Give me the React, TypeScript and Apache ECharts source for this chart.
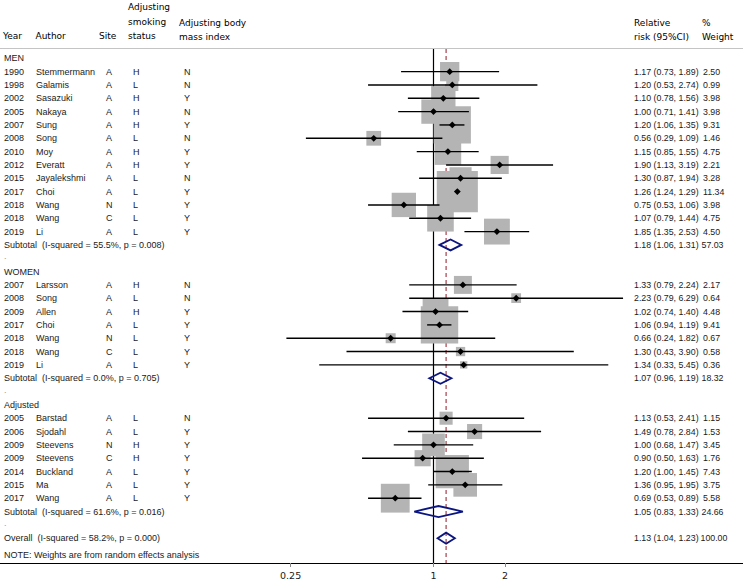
import React, { useEffect, useRef } from 'react';
import * as echarts from 'echarts';

// ---------- data ----------
const groupNames = ['MEN', 'WOMEN', 'Adjusted'];
const studyGroup = [0, 0, 0, 0, 0, 0, 0, 0, 0, 0, 0, 0, 0, 1, 1, 1, 1, 1, 1, 1, 2, 2, 2, 2, 2, 2, 2];
const years = ['1990', '1998', '2002', '2005', '2007', '2008', '2010', '2012', '2015', '2017', '2018', '2018', '2019',
  '2007', '2008', '2009', '2017', '2018', '2018', '2019',
  '2005', '2006', '2009', '2009', '2014', '2015', '2017'];
const authors = ['Stemmermann', 'Galamis', 'Sasazuki', 'Nakaya', 'Sung', 'Song', 'Moy', 'Everatt', 'Jayalekshmi', 'Choi', 'Wang', 'Wang', 'Li',
  'Larsson', 'Song', 'Allen', 'Choi', 'Wang', 'Wang', 'Li',
  'Barstad', 'Sjodahl', 'Steevens', 'Steevens', 'Buckland', 'Ma', 'Wang'];
const sites = ['A', 'A', 'A', 'A', 'A', 'A', 'A', 'A', 'A', 'A', 'N', 'C', 'A',
  'A', 'A', 'A', 'A', 'N', 'C', 'A',
  'A', 'A', 'N', 'C', 'A', 'A', 'A'];
const smoking = ['H', 'L', 'H', 'H', 'H', 'L', 'H', 'H', 'L', 'L', 'L', 'L', 'L',
  'H', 'L', 'H', 'L', 'L', 'L', 'L',
  'L', 'L', 'H', 'H', 'L', 'L', 'L'];
const bmi = ['N', 'N', 'Y', 'N', 'Y', 'N', 'Y', 'Y', 'N', 'Y', 'Y', 'Y', 'Y',
  'N', 'N', 'Y', 'Y', 'Y', 'Y', 'Y',
  'N', 'Y', 'Y', 'Y', 'Y', 'Y', 'Y'];
const rr = [1.17, 1.20, 1.10, 1.00, 1.20, 0.56, 1.15, 1.90, 1.30, 1.26, 0.75, 1.07, 1.85,
  1.33, 2.23, 1.02, 1.06, 0.66, 1.30, 1.34,
  1.13, 1.49, 1.00, 0.90, 1.20, 1.36, 0.69];
const lower = [0.73, 0.53, 0.78, 0.71, 1.06, 0.29, 0.85, 1.13, 0.87, 1.24, 0.53, 0.79, 1.35,
  0.79, 0.79, 0.74, 0.94, 0.24, 0.43, 0.33,
  0.53, 0.78, 0.68, 0.50, 1.00, 0.95, 0.53];
const upper = [1.89, 2.74, 1.56, 1.41, 1.35, 1.09, 1.55, 3.19, 1.94, 1.29, 1.06, 1.44, 2.53,
  2.24, 6.29, 1.40, 1.19, 1.82, 3.90, 5.45,
  2.41, 2.84, 1.47, 1.63, 1.45, 1.95, 0.89];
const weights = [2.50, 0.99, 3.98, 3.98, 9.31, 1.46, 4.75, 2.21, 3.28, 11.34, 3.98, 4.75, 4.50,
  2.17, 0.64, 4.48, 9.41, 0.67, 0.58, 0.36,
  1.15, 1.53, 3.45, 1.76, 7.43, 3.75, 5.58];

const subRR = [1.18, 1.07, 1.05];
const subLower = [1.06, 0.96, 0.83];
const subUpper = [1.31, 1.19, 1.33];
const subWeight = [57.03, 18.32, 24.66];
const subI2 = ['55.5%', '0.0%', '61.6%'];
const subP = ['0.008', '0.705', '0.016'];

const overallRR = 1.13;
const overallLower = 1.04;
const overallUpper = 1.23;
const overallWeight = 100.0;
const overallI2 = '58.2%';
const overallP = '0.000';

const tickValues = [0.25, 1, 2];
const nullValue = 1;

// ---------- layout ----------
const W = 743;
const H = 586;
const X_ONE = 433.5;
const OCTAVE = 71.45;
const GRID_TOP = 48;
const GRID_BOTTOM = 563;
const FIRST_ROW_Y = 58.3;
const ROW_H = 13.33;
const BOX_K = 12.2;

const X_MIN = Math.pow(2, -X_ONE / OCTAVE);
const X_MAX = Math.pow(2, (W - X_ONE) / OCTAVE);
const Y_MIN = (GRID_TOP - FIRST_ROW_Y) / ROW_H;
const Y_MAX = (GRID_BOTTOM - FIRST_ROW_Y) / ROW_H;

const TFONT = '9px "Liberation Sans", Arial, sans-serif';
const NFONT = '8.8px "Liberation Sans", Arial, sans-serif';
const HFONT = '9px "DejaVu Sans", Verdana, sans-serif';
const TCOL = '#1a1a1a';

const COL_YEAR = 4;
const COL_AUTHOR = 36;
const COL_SITE = 106;
const COL_SMOKE = 133;
const COL_BMI = 184;
const COL_RR = 634;
const COL_W = 703;

type Row = { kind: 'group' | 'study' | 'sub' | 'dot' | 'overall'; idx: number };
const rows: Row[] = [];
groupNames.forEach((_, gi) => {
  rows.push({ kind: 'group', idx: gi });
  studyGroup.forEach((g, si) => {
    if (g === gi) rows.push({ kind: 'study', idx: si });
  });
  rows.push({ kind: 'sub', idx: gi });
  rows.push({ kind: 'dot', idx: gi });
});
rows.push({ kind: 'overall', idx: 0 });

const fmtCI = (a: number, b: number, c: number) => `${a.toFixed(2)} (${b.toFixed(2)}, ${c.toFixed(2)})`;

function txt(x: number, y: number, text: string, font = TFONT, fill = TCOL) {
  return { type: 'text', x, y, silent: true, style: { text, font, fill, align: 'left', verticalAlign: 'middle' } };
}

export default function App() {
  const ref = useRef<HTMLDivElement>(null);
  useEffect(() => {
    if (!ref.current) return;
    const chart = echarts.init(ref.current, undefined, { renderer: 'svg' });

    const studyRowIdx: number[] = [];
    const subRowIdx: number[] = [];
    rows.forEach((r, i) => {
      if (r.kind === 'study') studyRowIdx[r.idx] = i;
      if (r.kind === 'sub') subRowIdx[r.idx] = i;
    });
    const overallRow = rows.length - 1;

    const studyData = rr.map((v, i) => [v, studyRowIdx[i], lower[i], upper[i], weights[i]]);
    const diamondData = subRR.map((v, i) => [v, subRowIdx[i], subLower[i], subUpper[i]]);
    diamondData.push([overallRR, overallRow, overallLower, overallUpper]);

    const option: any = {
      animation: false,
      backgroundColor: '#ffffff',
      grid: { left: 0, right: 0, top: GRID_TOP, bottom: H - GRID_BOTTOM, containLabel: false },
      xAxis: [
        {
          type: 'log',
          logBase: 2,
          min: X_MIN,
          max: X_MAX,
          position: 'bottom',
          axisLine: { show: true, onZero: false, lineStyle: { color: '#000', width: 1 } },
          axisTick: { show: true, customValues: tickValues, length: 4, lineStyle: { color: '#888', width: 1 } },
          axisLabel: {
            show: true,
            customValues: tickValues,
            margin: 7,
            formatter: (v: number) => String(v),
            fontFamily: '"DejaVu Sans", Verdana, sans-serif',
            fontSize: 9.5,
            color: '#1a1a1a',
          },
          splitLine: { show: false },
        },
        {
          type: 'log',
          logBase: 2,
          min: X_MIN,
          max: X_MAX,
          position: 'top',
          axisLine: { show: true, onZero: false, lineStyle: { color: '#c4c4c4', width: 1 } },
          axisTick: { show: false },
          axisLabel: { show: false },
          splitLine: { show: false },
        },
      ],
      yAxis: {
        type: 'value', inverse: true, min: Y_MIN, max: Y_MAX, show: false,
        axisLine: { show: false }, axisTick: { show: false }, axisLabel: { show: false }, splitLine: { show: false },
      },
      series: [
        {
          type: 'custom',
          name: 'reference',
          z: 1,
          data: [[nullValue, 0], [overallRR, 1]],
          renderItem: (params: any, api: any) => {
            const v = api.value(0);
            const p0 = api.coord([v, Y_MIN]);
            const p1 = api.coord([v, Y_MAX]);
            const dashed = params.dataIndex === 1;
            return {
              type: 'line',
              shape: { x1: p0[0], y1: p0[1] + 1, x2: p1[0], y2: p1[1] },
              style: dashed
                ? { stroke: '#a5404a', lineWidth: 1.2, lineDash: [4, 3] }
                : { stroke: '#000', lineWidth: 1.2 },
            };
          },
        },
        {
          type: 'custom',
          name: 'boxes',
          z: 2,
          data: studyData,
          renderItem: (params: any, api: any) => {
            const p = api.coord([api.value(0), api.value(1)]);
            const s = BOX_K * Math.sqrt(api.value(4));
            return {
              type: 'rect',
              shape: { x: p[0] - s / 2, y: p[1] - s / 2, width: s, height: s },
              style: { fill: '#b4b4b4' },
            };
          },
        },
        {
          type: 'custom',
          name: 'ci',
          z: 3,
          data: studyData,
          renderItem: (params: any, api: any) => {
            const row = api.value(1);
            const p = api.coord([api.value(0), row]);
            const a = api.coord([api.value(2), row]);
            const b = api.coord([api.value(3), row]);
            const d = 3.4;
            return {
              type: 'group',
              children: [
                { type: 'line', shape: { x1: a[0], y1: a[1], x2: b[0], y2: b[1] }, style: { stroke: '#000', lineWidth: 1.4 } },
                {
                  type: 'polygon',
                  shape: { points: [[p[0] - d, p[1]], [p[0], p[1] - d], [p[0] + d, p[1]], [p[0], p[1] + d]] },
                  style: { fill: '#000' },
                },
              ],
            };
          },
        },
        {
          type: 'custom',
          name: 'pooled',
          z: 4,
          data: diamondData,
          renderItem: (params: any, api: any) => {
            const row = api.value(1);
            const p = api.coord([api.value(0), row]);
            const a = api.coord([api.value(2), row]);
            const b = api.coord([api.value(3), row]);
            const h = 5.5;
            return {
              type: 'polygon',
              shape: { points: [[a[0], p[1]], [p[0], p[1] - h], [b[0], p[1]], [p[0], p[1] + h]] },
              style: { fill: 'none', stroke: '#0a1580', lineWidth: 1.8 },
            };
          },
        },
        {
          type: 'custom',
          name: 'table',
          z: 5,
          silent: true,
          data: rows.map((_, i) => [nullValue, i]),
          renderItem: (params: any, api: any) => {
            const r = rows[params.dataIndex];
            const y = api.coord([nullValue, api.value(1)])[1];
            const ch: any[] = [];
            if (r.kind === 'group') {
              ch.push(txt(COL_YEAR, y, groupNames[r.idx]));
            } else if (r.kind === 'study') {
              const i = r.idx;
              ch.push(txt(COL_YEAR, y, years[i]));
              ch.push(txt(COL_AUTHOR, y, authors[i]));
              ch.push(txt(COL_SITE, y, sites[i]));
              ch.push(txt(COL_SMOKE, y, smoking[i]));
              ch.push(txt(COL_BMI, y, bmi[i]));
              ch.push(txt(COL_RR, y, fmtCI(rr[i], lower[i], upper[i]), NFONT));
              ch.push(txt(COL_W, y, weights[i].toFixed(2), NFONT));
            } else if (r.kind === 'sub') {
              const i = r.idx;
              ch.push(txt(COL_YEAR, y, `Subtotal  (I-squared = ${subI2[i]}, p = ${subP[i]})`));
              ch.push(txt(COL_RR, y, fmtCI(subRR[i], subLower[i], subUpper[i]), NFONT));
              ch.push(txt(COL_W - 1.5, y, subWeight[i].toFixed(2), NFONT));
            } else if (r.kind === 'dot') {
              ch.push(txt(COL_YEAR, y - 2, '.', TFONT, '#999'));
            } else {
              ch.push(txt(COL_YEAR, y, `Overall  (I-squared = ${overallI2}, p = ${overallP})`));
              ch.push(txt(COL_RR, y, fmtCI(overallRR, overallLower, overallUpper), NFONT));
              ch.push(txt(COL_W - 2.5, y, overallWeight.toFixed(2), NFONT));
            }
            return { type: 'group', children: ch };
          },
        },
      ],
      graphic: [
        txt(3, 35.5, 'Year', HFONT, '#000'),
        txt(35.5, 35.5, 'Author', HFONT, '#000'),
        txt(99, 35.5, 'Site', HFONT, '#000'),
        txt(128, 7, 'Adjusting', HFONT, '#000'),
        txt(128, 21.5, 'smoking', HFONT, '#000'),
        txt(128, 36, 'status', HFONT, '#000'),
        txt(179, 22.5, 'Adjusting body', HFONT, '#000'),
        txt(179, 37, 'mass index', HFONT, '#000'),
        txt(634, 22.5, 'Relative', HFONT, '#000'),
        txt(634, 37, 'risk (95%CI)', HFONT, '#000'),
        txt(702, 22.5, '%', HFONT, '#000'),
        txt(702, 37, 'Weight', HFONT, '#000'),
        txt(4, 555, 'NOTE: Weights are from random effects analysis'),
      ],
    };
    chart.setOption(option);
    return () => chart.dispose();
  }, []);
  return <div ref={ref} style={{ position: 'fixed', left: 0, top: 0, width: W, height: H }} />;
}
